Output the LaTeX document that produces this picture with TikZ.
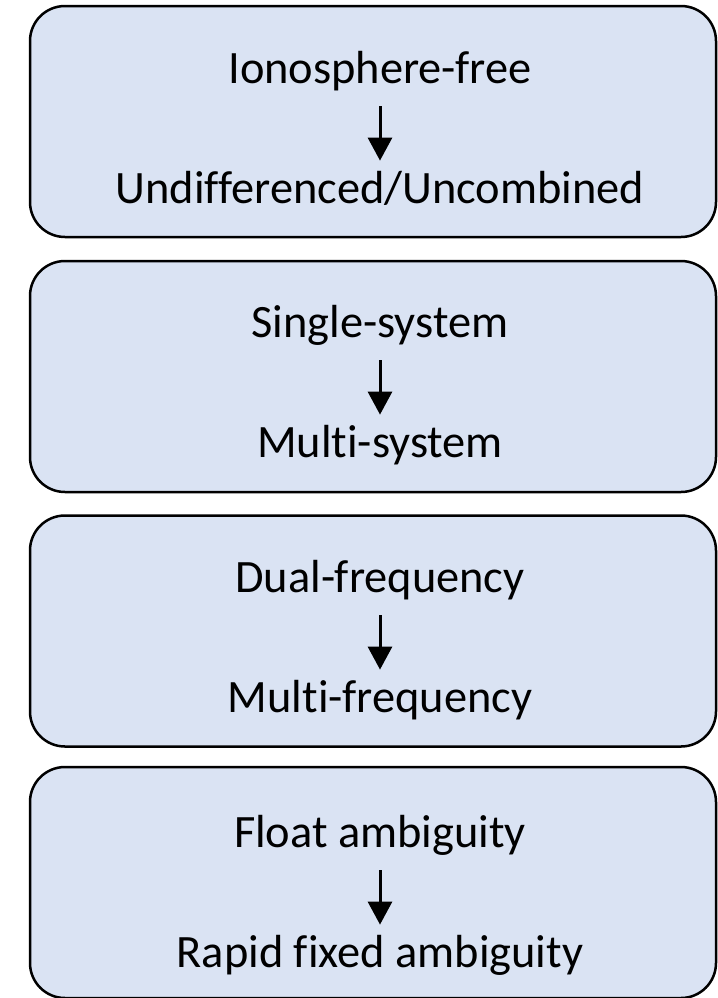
\documentclass[tikz,border=0pt]{standalone}
\usepackage{fontspec}
\setmainfont{Carlito}[Ligatures=NoCommon]
\usetikzlibrary{arrows.meta}
\definecolor{boxfill}{HTML}{DAE3F3}

\begin{document}
\begin{tikzpicture}[x=0.5pt, y=-0.5pt,
    stage/.style ={rectangle, draw, line width=1.25pt, fill=boxfill, rounded corners=17.5pt,
                   minimum width=343pt, minimum height=115.5pt, inner sep=0pt},
    method/.style ={inner sep=0pt, text height=16pt, text depth=5.75pt,
                    font=\fontsize{23.2}{27}\selectfont},
    trend/.style ={line width=1.5pt, -{Triangle[width=12pt, length=11.5pt]},
                   shorten <=5.75pt, shorten >=5pt}]
   \useasboundingbox (0,0) rectangle (718,998);
   % four stages
   \node[stage] (S1) at (373,121.5) {};
   \node[stage] (S2) at (373,376.5) {};
   \node[stage] (S3) at (373,631)   {};
   \node[stage] (S4) at (373,882.5) {};
   % texts
   \node[method, anchor=base] (A1) at (380,83)  {Ionosphere-free};
   \node[method, anchor=base] (B1) at (380,203) {Undifferenced/Uncombined};
   \node[method, anchor=base] (A2) at (380,337) {Single-system};
   \node[method, anchor=base] (B2) at (380,457) {Multi-system};
   \node[method, anchor=base] (A3) at (380,592) {Dual-frequency};
   \node[method, anchor=base] (B3) at (380,712) {Multi-frequency};
   \node[method, anchor=base] (A4) at (380,847) {Float ambiguity};
   \node[method, anchor=base] (B4) at (380,967) {Rapid fixed ambiguity};
   % arrows
   \draw[trend] (A1) to (B1);
   \draw[trend] (A2) to (B2);
   \draw[trend] (A3) to (B3);
   \draw[trend] (A4) to (B4);
\end{tikzpicture}
\end{document}
